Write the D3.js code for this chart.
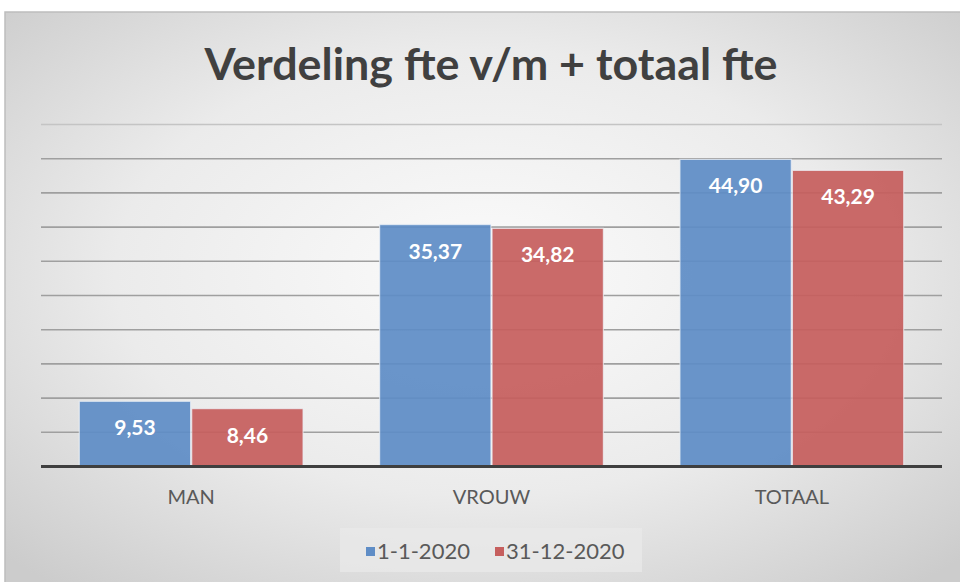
<!DOCTYPE html>
<html><head><meta charset="utf-8">
<script src="https://cdn.jsdelivr.net/npm/d3@7"></script>
<style>html,body{margin:0;padding:0;background:#fff;}svg{display:block;}</style>
</head><body>
<svg id="chart" width="960" height="582"></svg>
<script>
const title = "Verdeling fte v/m + totaal fte";
const categories = ["MAN", "VROUW", "TOTAAL"];
const seriesNames = ["1-1-2020", "31-12-2020"];
const values2020start = [9.53, 35.37, 44.90];
const values2020end = [8.46, 34.82, 43.29];
const yTicks = [0, 5, 10, 15, 20, 25, 30, 35, 40, 45, 50];
const colors = ["#5f8dc6", "#c65f5e"];

const svg = d3.select("#chart");
const defs = svg.append("defs");
const rg = defs.append("radialGradient").attr("id", "bg").attr("cx", "50%").attr("cy", "45%").attr("r", "70%");
rg.append("stop").attr("offset", "0%").attr("stop-color", "#fbfbfb");
rg.append("stop").attr("offset", "55%").attr("stop-color", "#ebebeb");
rg.append("stop").attr("offset", "100%").attr("stop-color", "#cccccc");

svg.append("rect").attr("x", 5).attr("y", 12).attr("width", 960).attr("height", 580)
  .attr("fill", "url(#bg)").attr("stroke", "#bdbdbd").attr("stroke-width", 1.5);

const x0 = d3.scaleBand().domain(categories).range([41, 942]).paddingInner(0.255).paddingOuter(0.1275);
const x1 = d3.scaleBand().domain(seriesNames).range([0, x0.bandwidth()]).paddingInner(0.01);
const y = d3.scaleLinear().domain([0, 50]).range([466.5, 124.5]);

// gridlines
svg.append("g").selectAll("line").data(yTicks.filter(t => t > 0)).join("line")
  .attr("x1", 41).attr("x2", 942).attr("y1", d => y(d)).attr("y2", d => y(d))
  .attr("stroke", d => d === 50 ? "#c4c4c4" : "#9f9f9f").attr("stroke-width", 1.6);

// title
const t = svg.append("text").attr("x", 491).attr("y", 80).attr("text-anchor", "middle")
  .attr("font-family", "Lato, 'Open Sans', sans-serif").attr("font-weight", "bold")
  .attr("font-size", 42).attr("fill", "#404040").text(title);
const tw = t.node().getComputedTextLength();
t.attr("font-size", 42 * 573 / tw);

const series = [values2020start, values2020end];
const groups = svg.append("g").selectAll("g").data(categories).join("g")
  .attr("transform", d => `translate(${x0(d)},0)`);

groups.each(function(cat, ci) {
  const g = d3.select(this);
  seriesNames.forEach((s, si) => {
    const v = series[si][ci];
    g.append("rect").attr("x", x1(s)).attr("y", y(v)).attr("width", x1.bandwidth())
      .attr("height", y(0) - y(v)).attr("fill", colors[si]).attr("fill-opacity", 0.93)
      .attr("stroke", "#eef2f8").attr("stroke-opacity", 0.7).attr("stroke-width", 1.2);
    g.append("text").attr("x", x1(s) + x1.bandwidth() / 2).attr("y", y(v) + 34)
      .attr("text-anchor", "middle").attr("font-family", "Lato, 'Open Sans', sans-serif")
      .attr("font-weight", "bold").attr("font-size", 21).attr("fill", "#ffffff")
      .text(d3.format(".2f")(v).replace(".", ","));
  });
});

// baseline axis
svg.append("line").attr("x1", 41).attr("x2", 942).attr("y1", y(0)).attr("y2", y(0))
  .attr("stroke", "#3f3f3f").attr("stroke-width", 3);

// category labels
const xAxis = svg.append("g").attr("transform", `translate(0,${y(0)})`)
  .call(d3.axisBottom(x0).tickSize(0).tickPadding(23));
xAxis.select(".domain").remove();
xAxis.selectAll("text").attr("font-family", "Lato, 'Open Sans', sans-serif").attr("font-size", 20)
  .attr("fill", "#595959");

// legend
svg.append("rect").attr("x", 340).attr("y", 528).attr("width", 302).attr("height", 44)
  .attr("fill", "#e8e8e8").attr("fill-opacity", 0.8);
const legX = [366, 495];
seriesNames.forEach((s, i) => {
  svg.append("rect").attr("x", legX[i]).attr("y", 547).attr("width", 9).attr("height", 9).attr("fill", colors[i]);
  svg.append("text").attr("x", legX[i] + 11).attr("y", 558.5)
    .attr("font-family", "Lato, 'Open Sans', sans-serif").attr("font-size", 22).attr("fill", "#595959").text(s);
});
</script>
</body></html>
